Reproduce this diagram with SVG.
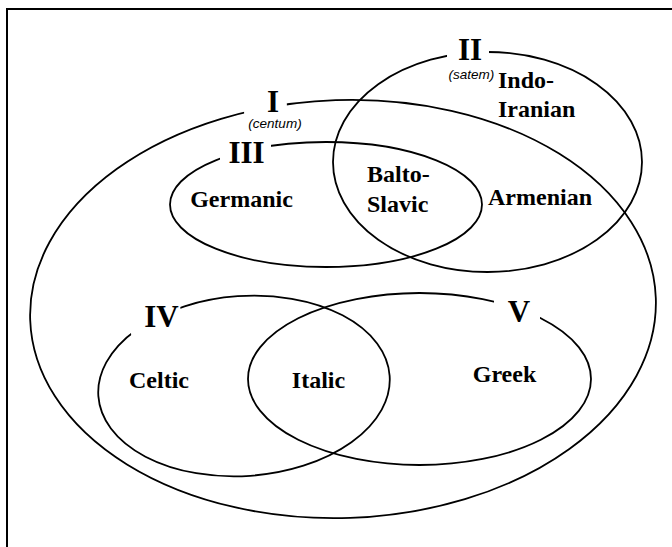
<svg xmlns="http://www.w3.org/2000/svg" width="672" height="547" viewBox="0 0 672 547">
  <style>
    .set { fill: none; stroke: #000; stroke-width: 1.8; }
    .frame { fill: none; stroke: #000; stroke-width: 2; }
    .num { font-family: "Liberation Serif", "Times New Roman", serif; font-weight: bold; font-size: 31px; fill: #000; text-anchor: middle; }
    .lang { font-family: "Liberation Serif", "Times New Roman", serif; font-weight: bold; font-size: 24px; fill: #000; }
    .mid { text-anchor: middle; }
    .sub { font-family: "Liberation Sans", Arial, sans-serif; font-style: italic; font-size: 13.5px; fill: #000; text-anchor: middle; }
  </style>
  <defs>
    <mask id="gaps" maskUnits="userSpaceOnUse" x="0" y="0" width="672" height="547">
      <rect x="0" y="0" width="672" height="547" fill="#fff"/>
      <rect x="251" y="86" width="43" height="30" fill="#000"/>
      <rect x="447" y="33" width="42" height="36" fill="#000"/>
      <rect x="220" y="135" width="51" height="34" fill="#000"/>
      <rect x="135" y="288" width="51" height="48" fill="#000"/>
      <rect x="494" y="285" width="46" height="44" fill="#000"/>
    </mask>
  </defs>

  <g id="frame">
    <path class="frame" d="M7 547 V9 H672"/>
  </g>

  <g id="connectors"></g>

  <g id="set-I">
    <ellipse class="set" cx="343" cy="309" rx="313" ry="209" transform="rotate(-2 343 309)" mask="url(#gaps)"/>
    <text class="num" x="273" y="112">I</text>
    <text class="sub" x="275" y="128">(centum)</text>
  </g>

  <g id="set-II">
    <ellipse class="set" cx="487.5" cy="162" rx="154.5" ry="110" mask="url(#gaps)"/>
    <text class="num" x="470" y="60">II</text>
    <text class="sub" x="471.5" y="79">(satem)</text>
    <text class="lang" x="498" y="88">Indo-</text>
    <text class="lang" x="498" y="117">Iranian</text>
    <text class="lang mid" x="540" y="205">Armenian</text>
  </g>

  <g id="set-III">
    <ellipse class="set" cx="326" cy="204.5" rx="156" ry="62.5" mask="url(#gaps)"/>
    <text class="num" x="246.5" y="163">III</text>
    <text class="lang mid" x="241.5" y="207">Germanic</text>
    <text class="lang" x="367" y="182">Balto-</text>
    <text class="lang" x="367" y="212">Slavic</text>
  </g>

  <g id="set-IV">
    <ellipse class="set" cx="244" cy="386" rx="146" ry="90" transform="rotate(-4 244 386)" mask="url(#gaps)"/>
    <text class="num" x="161.5" y="327">IV</text>
    <text class="lang mid" x="159" y="388">Celtic</text>
    <text class="lang mid" x="318.5" y="388">Italic</text>
  </g>

  <g id="set-V">
    <ellipse class="set" cx="419.5" cy="379" rx="171.5" ry="86" mask="url(#gaps)"/>
    <text class="num" x="519" y="322">V</text>
    <text class="lang mid" x="504.5" y="382">Greek</text>
  </g>
</svg>
